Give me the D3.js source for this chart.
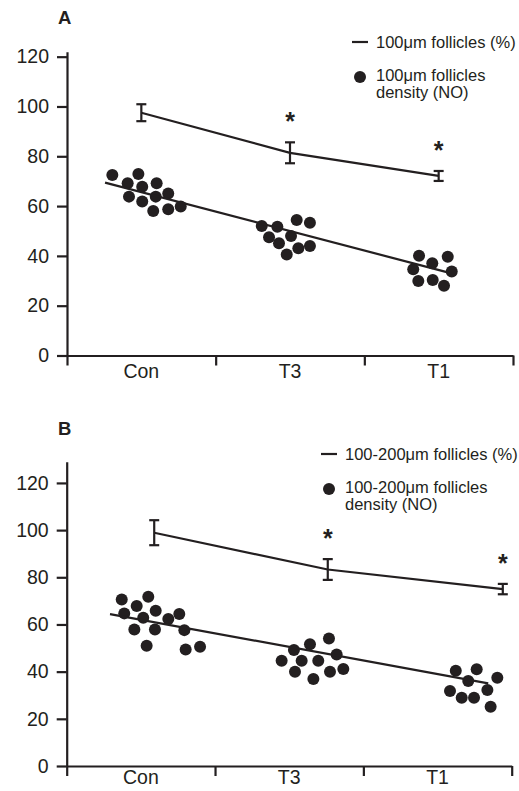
<!DOCTYPE html>
<html>
<head>
<meta charset="utf-8">
<script src="https://cdn.jsdelivr.net/npm/d3@7"></script>
<style>
  html, body { margin: 0; padding: 0; background: #fff; }
  svg { display: block; font-family: "Liberation Sans", Arial, sans-serif; }
</style>
</head>
<body>
<svg id="chart" width="519" height="791"></svg>
<script>
// ---------------- DATA ----------------
const categories = ["Con", "T3", "T1"];
const yTicks = [0, 20, 40, 60, 80, 100, 120];
const catBoundaries = [0, 1, 2, 3];

// Panel A : 100µm follicles
const pctMeanA = [97.5, 81.4, 72.1];
const pctErrA  = [3.4, 4.2, 2.0];
const pctPosA  = [0.5, 1.5, 2.5];
const sigA     = [false, true, true];
const dotPosA = [0.305, 0.480, 0.408, 0.506, 0.603, 0.417, 0.597, 0.681, 0.506, 0.580, 0.681, 0.765,
                 1.310, 1.415, 1.545, 1.634, 1.359, 1.507, 1.426, 1.556, 1.634, 1.478,
                 2.368, 2.561, 2.457, 2.329, 2.588, 2.363, 2.460, 2.536];
const dotValA = [72.5, 72.9, 69.2, 67.8, 69.2, 63.8, 63.8, 65.1, 61.8, 58.0, 58.7, 59.8,
                 52.0, 51.7, 54.4, 53.3, 47.5, 48.0, 45.1, 43.1, 44.0, 40.6,
                 40.1, 39.7, 37.0, 34.6, 33.7, 29.9, 30.3, 28.0];
const fitPosA = [0.256, 2.561];
const fitValA = [69.4, 33.4];
const legendA = ["100\u03bcm follicles (%)", "100\u03bcm follicles", "density (NO)"];

// Panel B : 100-200µm follicles
const pctMeanB = [98.9, 83.3, 75.0];
const pctErrB  = [5.3, 4.4, 2.2];
const pctPosB  = [0.59, 1.76, 2.94];
const sigB     = [false, true, true];
const dotPosB = [0.371, 0.550, 0.472, 0.388, 0.600, 0.516, 0.685, 0.759, 0.456, 0.595, 0.793, 0.539, 0.802, 0.899,
                 1.449, 1.532, 1.640, 1.768, 1.584, 1.696, 1.820, 1.539, 1.775, 1.865, 1.663,
                 2.623, 2.764, 2.707, 2.903, 2.584, 2.836, 2.663, 2.746, 2.858];
const dotValB = [70.6, 71.7, 67.8, 64.7, 65.8, 62.8, 62.3, 64.4, 57.9, 57.9, 57.6, 51.0, 49.4, 50.6,
                 44.6, 49.2, 51.6, 54.1, 44.6, 44.6, 47.3, 40.0, 40.0, 41.1, 36.9,
                 40.4, 41.0, 36.0, 37.4, 31.8, 32.2, 28.9, 28.9, 25.1];
const fitPosB = [0.292, 2.842];
const fitValB = [64.4, 35.0];
const legendB = ["100-200\u03bcm follicles (%)", "100-200\u03bcm follicles", "density (NO)"];

// ---------------- DRAW ----------------
const INK = "#231f20";
const svg = d3.select("#chart");

function panel(cfg) {
  const g = svg.append("g");
  const x = d3.scaleLinear().domain([0, 3]).range([cfg.left, cfg.right]);
  const xb = d3.scaleBand().domain(categories).range([cfg.left, cfg.right]);
  const y = d3.scaleLinear().domain([0, cfg.yMax]).range([cfg.bottom, cfg.top]);

  // panel letter
  g.append("text").attr("x", cfg.letterX).attr("y", cfg.letterY)
    .attr("font-size", 18.5).attr("font-weight", "bold").attr("fill", INK).text(cfg.letter);

  // y axis
  const ya = g.append("g").attr("transform", `translate(${cfg.left},0)`)
    .call(d3.axisLeft(y).tickValues(yTicks).tickSize(10).tickSizeOuter(0).tickPadding(8));
  ya.selectAll("path, line").attr("stroke", INK).attr("stroke-width", 2.2);
  ya.selectAll("text").attr("font-size", 19.5).attr("fill", INK).attr("font-family", "Liberation Sans, Arial, sans-serif");

  // x axis (boundary ticks)
  const xa = g.append("g").attr("transform", `translate(0,${cfg.bottom})`)
    .call(d3.axisBottom(x).tickValues(catBoundaries).tickSize(10).tickSizeOuter(0).tickFormat(""));
  xa.selectAll("path, line").attr("stroke", INK).attr("stroke-width", 2.2);

  // category labels
  const xl = g.append("g").attr("transform", `translate(0,${cfg.bottom})`)
    .call(d3.axisBottom(xb).tickSize(0).tickPadding(cfg.labelPad));
  xl.select(".domain").remove();
  xl.selectAll("text").attr("font-size", 19.5).attr("fill", INK).attr("font-family", "Liberation Sans, Arial, sans-serif");

  // density dots
  g.append("g").selectAll("circle").data(cfg.dotPos.map((p, i) => [p, cfg.dotVal[i]]))
    .join("circle").attr("cx", d => x(d[0])).attr("cy", d => y(d[1])).attr("r", 6).attr("fill", INK);

  // fit line
  g.append("path").datum(cfg.fitPos.map((p, i) => [p, cfg.fitVal[i]]))
    .attr("d", d3.line().x(d => x(d[0])).y(d => y(d[1])))
    .attr("fill", "none").attr("stroke", INK).attr("stroke-width", 2.2);

  // percentage line
  const pct = cfg.pctPos.map((p, i) => ({ p, m: cfg.pctMean[i], e: cfg.pctErr[i], s: cfg.sig[i] }));
  g.append("path").datum(pct)
    .attr("d", d3.line().x(d => x(d.p)).y(d => y(d.m)))
    .attr("fill", "none").attr("stroke", INK).attr("stroke-width", 2.2);

  const eb = g.append("g").selectAll("g").data(pct).join("g").attr("stroke", INK).attr("stroke-width", 2.2);
  eb.append("line").attr("x1", d => x(d.p)).attr("x2", d => x(d.p)).attr("y1", d => y(d.m - d.e)).attr("y2", d => y(d.m + d.e));
  eb.append("line").attr("x1", d => x(d.p) - 5).attr("x2", d => x(d.p) + 5).attr("y1", d => y(d.m - d.e)).attr("y2", d => y(d.m - d.e));
  eb.append("line").attr("x1", d => x(d.p) - 5).attr("x2", d => x(d.p) + 5).attr("y1", d => y(d.m + d.e)).attr("y2", d => y(d.m + d.e));

  // significance stars
  g.append("g").selectAll("text").data(pct.filter(d => d.s)).join("text")
    .attr("x", d => x(d.p)).attr("y", d => y(d.m + d.e) - 26 + 14)
    .attr("text-anchor", "middle").attr("font-size", 25).attr("font-weight", "bold").attr("fill", INK).text("*");

  // legend
  const lg = g.append("g");
  lg.append("line").attr("x1", cfg.legX).attr("x2", cfg.legX + 16)
    .attr("y1", cfg.legY).attr("y2", cfg.legY).attr("stroke", INK).attr("stroke-width", 2.2);
  lg.append("text").attr("x", cfg.legX + 24).attr("y", cfg.legY + 6)
    .attr("font-size", 16.5).attr("fill", INK).text(cfg.legend[0]);
  lg.append("circle").attr("cx", cfg.legX + 8).attr("cy", cfg.legY + 35).attr("r", 6).attr("fill", INK);
  lg.append("text").attr("x", cfg.legX + 24).attr("y", cfg.legY + 38.5)
    .attr("font-size", 16.5).attr("fill", INK).text(cfg.legend[1]);
  lg.append("text").attr("x", cfg.legX + 24).attr("y", cfg.legY + 55.5)
    .attr("font-size", 16.5).attr("fill", INK).text(cfg.legend[2]);
}

panel({
  letter: "A", letterX: 58, letterY: 23.5,
  left: 67, right: 513, top: 51.7, bottom: 355.5, yMax: 122, labelPad: 9,
  pctMean: pctMeanA, pctErr: pctErrA, pctPos: pctPosA, sig: sigA,
  dotPos: dotPosA, dotVal: dotValA, fitPos: fitPosA, fitVal: fitValA,
  legend: legendA, legX: 352, legY: 42
});

panel({
  letter: "B", letterX: 58, letterY: 435,
  left: 66.7, right: 511.7, top: 461.7, bottom: 766, yMax: 129, labelPad: 4,
  pctMean: pctMeanB, pctErr: pctErrB, pctPos: pctPosB, sig: sigB,
  dotPos: dotPosB, dotVal: dotValB, fitPos: fitPosB, fitVal: fitValB,
  legend: legendB, legX: 321, legY: 454
});
</script>
</body>
</html>
